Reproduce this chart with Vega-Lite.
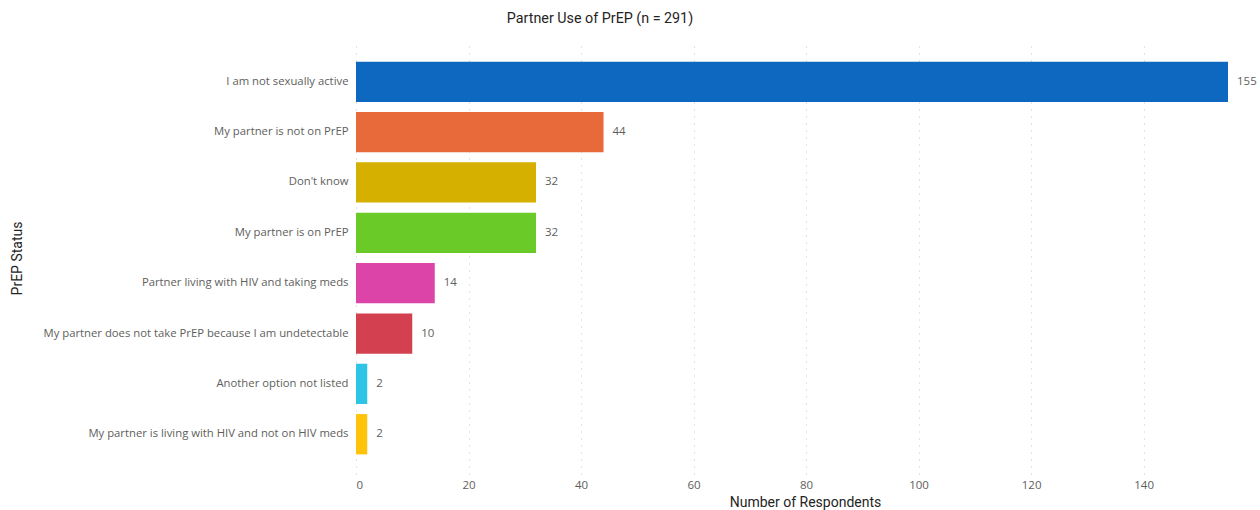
{
  "$schema": "https://vega.github.io/schema/vega-lite/v6.json",
  "autosize": "none",
  "padding": {"left": 356, "top": 42, "right": 32, "bottom": 36},
  "width": 872,
  "height": 432,
  "background": "white",
  "title": {"text": "Partner Use of PrEP (n = 291)", "anchor": "middle", "dx": -192, "offset": 16, "font": "Roboto", "fontSize": 14.3, "fontWeight": "normal", "color": "#252423"},
  "data": {"values": [
    {"status": "I am not sexually active", "count": 155},
    {"status": "My partner is not on PrEP", "count": 44},
    {"status": "Don't know", "count": 32},
    {"status": "My partner is on PrEP", "count": 32},
    {"status": "Partner living with HIV and taking meds", "count": 14},
    {"status": "My partner does not take PrEP because I am undetectable", "count": 10},
    {"status": "Another option not listed", "count": 2},
    {"status": "My partner is living with HIV and not on HIV meds", "count": 2}
  ]},
  "config": {"view": {"stroke": null}, "font": "Open Sans"},
  "encoding": {
    "y": {"field": "status", "type": "nominal", "sort": null,
      "scale": {"paddingInner": 0.2, "paddingOuter": 0.39},
      "axis": {"title": "PrEP Status", "titleFont": "Roboto", "titleFontSize": 14, "titleFontWeight": "normal", "titleColor": "#252423",
        "titleX": -332, "titleY": 216, "titleAngle": -90, "titleBaseline": "bottom", "titleAlign": "center",
        "labelFont": "Open Sans", "labelFontSize": 11.3, "labelColor": "#605E5C", "labelPadding": 8, "labelLimit": 400, "ticks": false, "domain": false}},
    "x": {"field": "count", "type": "quantitative", "scale": {"domain": [0, 155], "nice": false},
      "axis": {"title": "Number of Respondents", "titleFont": "Roboto", "titleFontSize": 14, "titleFontWeight": "normal", "titleColor": "#252423", "titlePadding": 5, "titleX": 449,
        "values": [0, 20, 40, 60, 80, 100, 120, 140], "labelFont": "Open Sans", "labelFontSize": 11.5, "labelColor": "#605E5C", "labelPadding": 5,
        "ticks": false, "domain": false, "grid": true, "gridColor": "#C8C6C4", "gridDash": [1, 6], "gridWidth": 1}}
  },
  "layer": [
    {"mark": {"type": "bar"},
      "encoding": {"color": {"field": "status", "type": "nominal", "sort": null, "legend": null,
        "scale": {"range": ["#0F68C0", "#E8693A", "#D6B000", "#6ACB28", "#DC44A8", "#D3404F", "#2EC4E6", "#FFC30B"]}}}},
    {"mark": {"type": "text", "align": "left", "dx": 9, "font": "Open Sans", "fontSize": 11.5, "color": "#605E5C"},
      "encoding": {"text": {"field": "count", "type": "quantitative"}}}
  ]
}
